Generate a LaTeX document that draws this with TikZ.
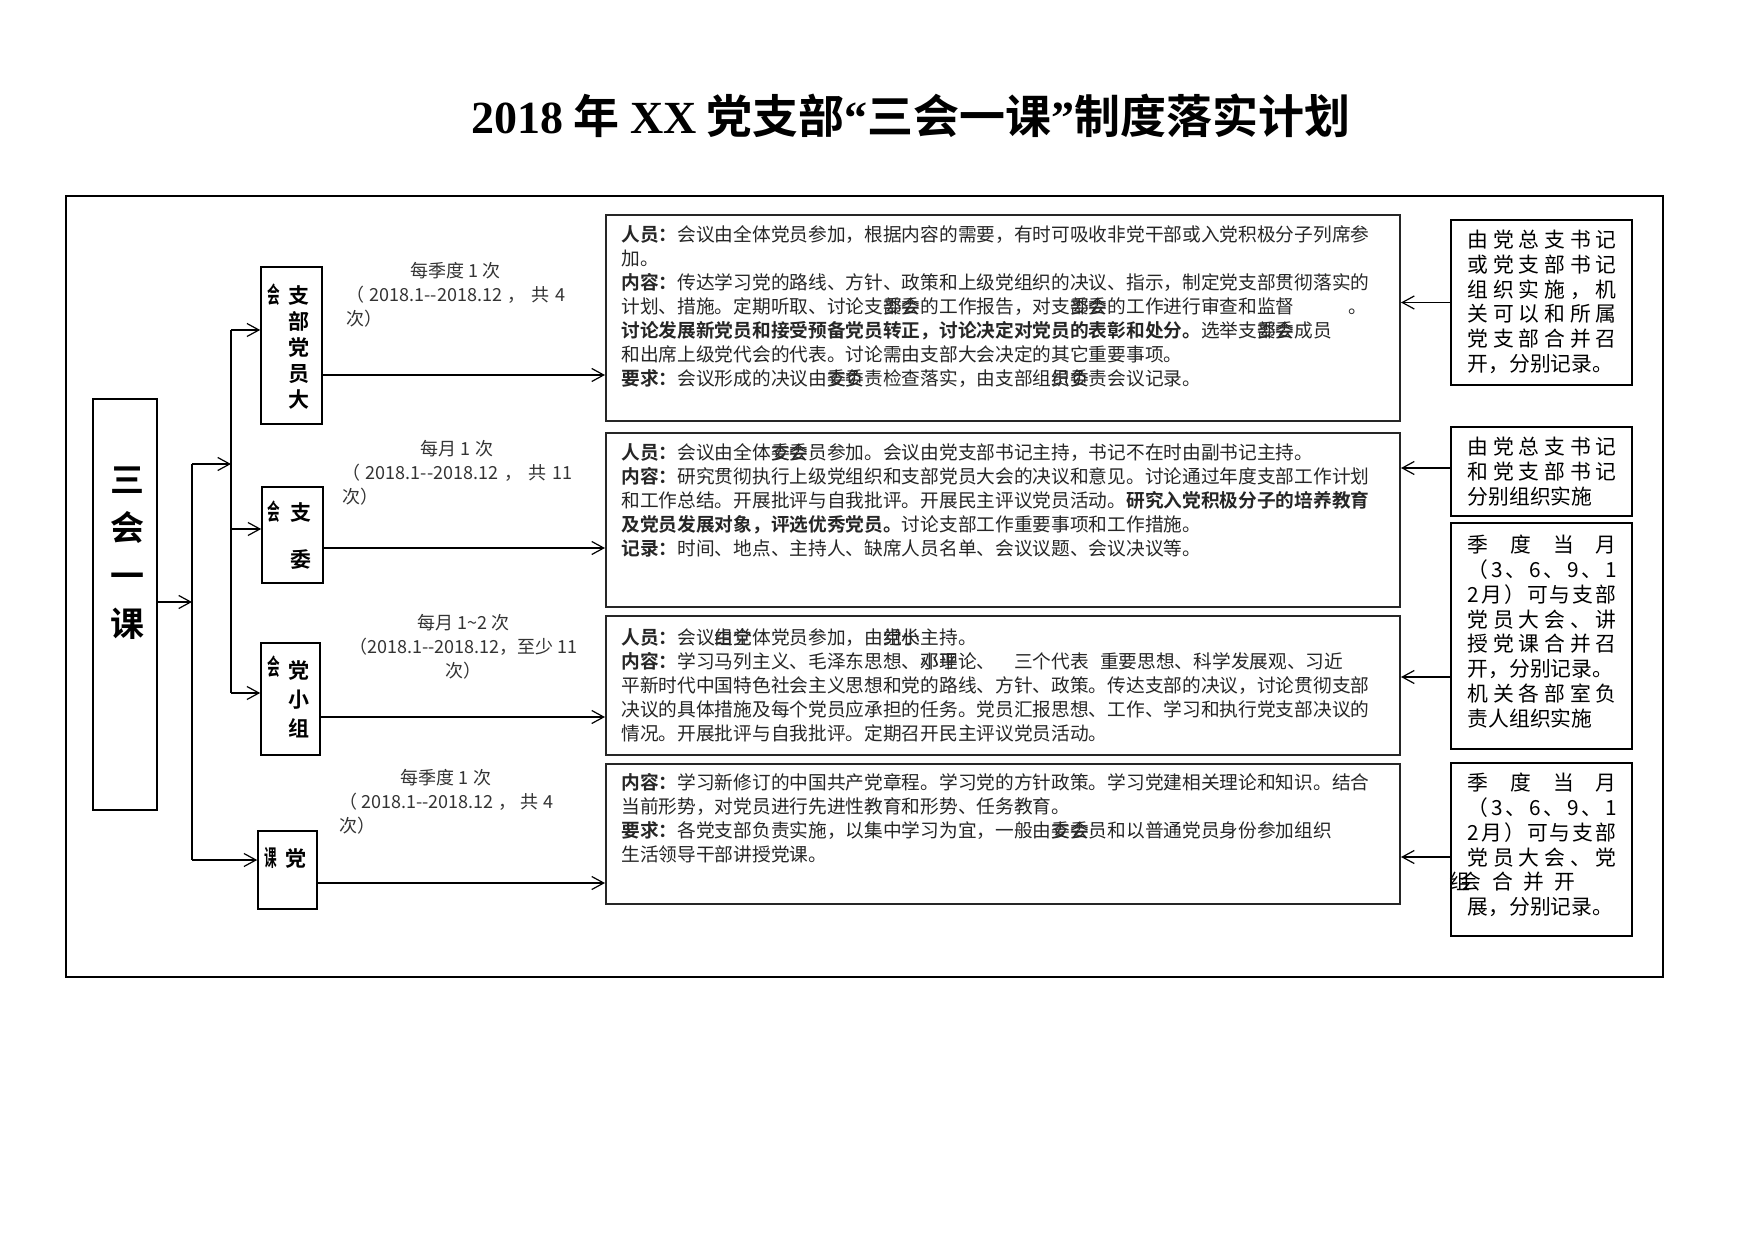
\documentclass[tikz,border=0pt]{standalone}
\usepackage{graphicx}
\usepackage{fontspec}
\setmainfont{Noto Sans CJK SC}[BoldFont={Noto Sans CJK SC Bold}]
\newfontfamily\titleserif{Liberation Serif}
\usetikzlibrary{arrows.meta}

% two glyphs printed in one cell, as in the source
\newcommand{\twochar}[2]{\rlap{#1}#2}
% one line spread over the whole cell width
\makeatletter
\newcommand{\jline}[1]{\makebox[74.5pt][s]{\jline@#1\@nil}}
\def\jline@#1{\ifx\@nil#1\unskip\else#1\hfil\expandafter\jline@\fi}
\makeatother

\begin{document}
\begin{tikzpicture}[
    x=0.5pt, y=-0.5pt,
    >={Straight Barb[length=6pt, width=6.5pt]},
    fwd/.style={->, line width=0.6pt},
    trunk/.style={line width=0.6pt},
    mainbox/.style={draw, line width=0.8pt, minimum width=32pt, minimum height=205.5pt, inner sep=0pt},
    kind/.style={draw, line width=0.8pt, inner sep=0pt},
    kindtext/.style={font=\fontsize{10.5}{13}\selectfont\bfseries, align=center, inner sep=0pt},
    spill/.style={font=\fontsize{11.5}{13}\selectfont\bfseries, inner sep=0pt},
    freq/.style={font=\fontsize{9}{12}\selectfont, text=black!80, align=center, inner sep=0pt},
    detail/.style={draw=black!85, line width=1pt, minimum width=397pt, inner sep=0pt},
    detailtext/.style={anchor=north west, inner sep=0pt, align=left, text width=392pt, font=\fontsize{9.35}{12}\selectfont, text=black!85},
    who/.style={draw, line width=0.8pt, minimum width=90.5pt, inner sep=0pt},
    whotext/.style={anchor=north west, inner sep=0pt, align=left, text width=80pt, font=\fontsize{10.4}{12.4}\selectfont}
]
    \useasboundingbox (0,0) rectangle (1748,1234);

    % Title
    \node[font=\fontsize{23}{27}\selectfont\bfseries] (title) at (911,116) {{\titleserif 2018} 年 {\titleserif XX} 党支部{\titleserif “}三会一课{\titleserif ”}制度落实计划};

    % Frame
    \draw[line width=0.8pt] (66,196) rectangle (1663,977);

    % Main block
    \node[mainbox] (sh) at (125,604.5) {};
    \node[font=\fontsize{17}{24}\selectfont\bfseries, align=center, inner sep=0pt] (shtext) at (127,553.5) {三\\会\\一\\课};

    % Meeting kinds (vertical)
    \node[kind, minimum width=30.5pt, minimum height=78.5pt] (dh) at (291.5,345.5) {};
    \node[kindtext] (dhtext) at (299,347.5) {支\\部\\党\\员\\大};
    \node[spill] (dhspill) at (274,295) {\scalebox{0.55}[1]{会}};

    \node[kind, minimum width=30.5pt, minimum height=48pt] (zw) at (292.5,535) {};
    \node[kindtext] (zwtext) at (301,536.5) {支\\[10.5pt]委};
    \node[spill] (zwspill) at (274,512) {\scalebox{0.55}[1]{会}};

    \node[kind, minimum width=29.5pt, minimum height=56pt] (xz) at (290.5,699) {};
    \node[kindtext] (xztext) at (299,699) {党\\[1.5pt]小\\[1.5pt]组};
    \node[spill] (xzspill) at (274,667) {\scalebox{0.55}[1]{会}};

    \node[kind, minimum width=29.5pt, minimum height=39pt] (dk) at (287.5,870) {};
    \node[kindtext] (dktext) at (296,858) {党};
    \node[spill] (dkspill) at (271,858) {\scalebox{0.55}[1]{课}};

    % Tree lines
    \coordinate (trunka) at (192,464);
    \coordinate (trunkb) at (192,860);
    \coordinate (brancha) at (231,330);
    \coordinate (branchzw) at (231,529);
    \coordinate (branchb) at (231,693);
    \draw[trunk] (trunka) -- (trunkb);
    \draw[trunk] (brancha) -- (branchb);
    \coordinate (shout) at ([yshift=1.25pt]sh.east);
    \draw[fwd] (shout) -- (shout -| trunka);
    \draw[fwd] (trunka) -- (trunka -| brancha);
    \draw[fwd] (brancha) -- (brancha -| dh.west);
    \draw[fwd] (branchzw) -- (branchzw -| zw.west);
    \draw[fwd] (branchb) -- (branchb -| xz.west);
    \draw[fwd] (trunkb) -- (trunkb -| dk.west);

    % Frequencies
    \node[freq] (dhfreq) at (455.5,295) {每季度 1 次\\\makebox[109.5pt][s]{（ 2018.1-{}-2018.12 ， 共 4}\\\makebox[109.5pt][l]{次）}};
    \node[freq] (zwfreq) at (457,473) {每月 1 次\\\makebox[115pt][s]{（ 2018.1-{}-2018.12 ， 共 11}\\\makebox[115pt][l]{次）}};
    \node[freq] (xzfreq) at (463.5,647) {每月 1\textasciitilde 2 次\\（2018.1-{}-2018.12，至少 11\\次）};
    \node[freq] (dkfreq) at (446,802) {每季度 1 次\\\makebox[107pt][s]{（ 2018.1-{}-2018.12 ， 共 4}\\\makebox[107pt][l]{次）}};

    % Details
    \node[detail, minimum height=103pt] (c1) at (1003,318) {};
    \node[detailtext] (c1text) at ([xshift=8pt, yshift=-5.5pt]c1.north west) {\textbf{人员：}会议由全体党员参加，根据内容的需要，有时可吸收非党干部或入党积极分子列席参\\
        加。\\
        \textbf{内容：}传达学习党的路线、方针、政策和上级党组织的决议、指示，制定党支部贯彻落实的\\
        计划、措施。定期听取、讨论支\twochar{部}{委}\twochar{委}{会}的工作报告，对支\twochar{部}{委}\twochar{委}{会}的工作进行审查和监督\hspace{2.9em}。\\
        \textbf{讨论发展新党员和接受预备党员转正，讨论决定对党员的表彰和处分。}选举支\twochar{部}{委}\twochar{委}{会}成员\\
        和出席上级党代会的代表。讨论需由支部大会决定的其它重要事项。\\
        \textbf{要求：}会议形成的决议由\twochar{支}{委}\twochar{委}{负}责检查落实，由支部组\twochar{织}{员}\twochar{委}{负}责会议记录。};

    \node[detail, minimum height=87pt] (c2) at (1003,520) {};
    \node[detailtext] (c2text) at ([xshift=8pt, yshift=-5.5pt]c2.north west) {\textbf{人员：}会议由全体\twochar{支}{委}\twochar{委}{会}员参加。会议由党支部书记主持，书记不在时由副书记主持。\\
        \textbf{内容：}研究贯彻执行上级党组织和支部党员大会的决议和意见。讨论通过年度支部工作计划\\
        和工作总结。开展批评与自我批评。开展民主评议党员活动。\textbf{研究入党积极分子的培养教育}\\
        \textbf{及党员发展对象，评选优秀党员。}讨论支部工作重要事项和工作措施。\\
        \textbf{记录：}时间、地点、主持人、缺席人员名单、会议议题、会议决议等。};

    \node[detail, minimum height=69.5pt] (c3) at (1003,685.5) {};
    \node[detailtext] (c3text) at ([xshift=8pt, yshift=-6.5pt]c3.north west) {\textbf{人员：}会议\twochar{由}{组}\twochar{党}{全}体党员参加，由\twochar{党}{组}\twochar{小}{长}主持。\\
        \textbf{内容：}学习马列主义、毛泽东思想、\twochar{邓}{小}\twochar{平}{理}论、\hspace{1em}三个代表\hspace{0.6em}重要思想、科学发展观、习近\\
        平新时代中国特色社会主义思想和党的路线、方针、政策。传达支部的决议，讨论贯彻支部\\
        决议的具体措施及每个党员应承担的任务。党员汇报思想、工作、学习和执行党支部决议的\\
        情况。开展批评与自我批评。定期召开民主评议党员活动。};

    \node[detail, minimum height=70pt] (c4) at (1003,834) {};
    \node[detailtext] (c4text) at ([xshift=8pt, yshift=-5pt]c4.north west) {\textbf{内容：}学习新修订的中国共产党章程。学习党的方针政策。学习党建相关理论和知识。结合\\
        当前形势，对党员进行先进性教育和形势、任务教育。\\
        \textbf{要求：}各党支部负责实施，以集中学习为宜，一般由\twochar{支}{委}\twochar{委}{会}员和以普通党员身份参加组织\\
        生活领导干部讲授党课。};

    \coordinate (dhout) at ([yshift=-14.75pt]dh.east);
    \coordinate (zwout) at ([yshift=-6.5pt]zw.east);
    \coordinate (xzout) at ([yshift=-9pt]xz.east);
    \coordinate (dkout) at ([yshift=-6.5pt]dk.east);
    \draw[fwd] (dhout) -- (dhout -| c1.west);
    \draw[fwd] (zwout) -- (zwout -| c2.west);
    \draw[fwd] (xzout) -- (xzout -| c3.west);
    \draw[fwd] (dkout) -- (dkout -| c4.west);

    % Who organises
    \node[who, minimum height=82.5pt] (w1) at (1541.5,302.5) {};
    \node[whotext] (w1text) at ([xshift=8.5pt, yshift=-5.25pt]w1.north west) {\jline{由党总支书记}\\\jline{或党支部书记}\\\jline{组织实施，机}\\\jline{关可以和所属}\\\jline{党支部合并召}\\开，分别记录。};

    \node[who, minimum height=44.5pt] (w2) at (1541.5,471.5) {};
    \node[whotext] (w2text) at ([xshift=8.5pt, yshift=-5.25pt]w2.north west) {\jline{由党总支书记}\\\jline{和党支部书记}\\分别组织实施};

    \node[who, minimum height=113pt] (w3) at (1541.5,636) {};
    \node[whotext] (w3text) at ([xshift=8.5pt, yshift=-6.25pt]w3.north west) {\jline{季度当月}\\\jline{（3、6、9、1}\\\jline{2月）可与支部}\\\jline{党员大会、讲}\\\jline{授党课合并召}\\开，分别记录。\\\jline{机关各部室负}\\责人组织实施};

    \node[who, minimum height=86.5pt] (w4) at (1541.5,849.5) {};
    \node[whotext] (w4text) at ([xshift=8.5pt, yshift=-5.25pt]w4.north west) {\jline{季度当月}\\\jline{（3、6、9、1}\\\jline{2月）可与支部}\\\jline{党员大会、党}\\\hspace*{-0.87em}组\hspace{-0.45em}会\hspace{0.5em}合\hspace{0.5em}并\hspace{0.5em}开\\展，分别记录。};

    \coordinate (w2in) at ([yshift=1.75pt]w2.west);
    \coordinate (w3in) at ([yshift=-20.5pt]w3.west);
    \coordinate (w4in) at ([yshift=-3.75pt]w4.west);
    \draw[fwd] (w1.west) -- (w1.west -| c1.east);
    \draw[fwd] (w2in) -- (w2in -| c2.east);
    \draw[fwd] (w3in) -- (w3in -| c3.east);
    \draw[fwd] (w4in) -- (w4in -| c4.east);
\end{tikzpicture}
\end{document}
